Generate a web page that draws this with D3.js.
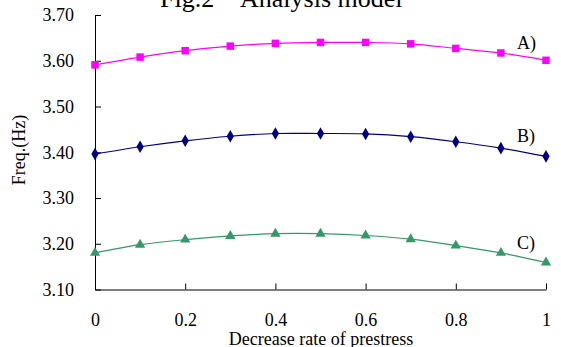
<!DOCTYPE html>
<html>
<head>
<meta charset="utf-8">
<script src="https://cdn.jsdelivr.net/npm/d3@7"></script>
<style>
  body { margin: 0; background: #fff; }
  svg { display: block; }
  text { font-family: "Liberation Serif", "Times New Roman", serif; fill: #000; }
</style>
</head>
<body>
<svg id="chart" width="561" height="347"></svg>
<script>
// decrease rate of prestress
var rates = [0, 0.1, 0.2, 0.3, 0.4, 0.5, 0.6, 0.7, 0.8, 0.9, 1];
// frequencies (Hz) for the three cases
var freqA = [3.591, 3.608, 3.622, 3.632, 3.638, 3.640, 3.640, 3.637, 3.627, 3.617, 3.601];
var freqB = [3.396, 3.412, 3.425, 3.435, 3.441, 3.441, 3.440, 3.434, 3.423, 3.409, 3.391];
var freqC = [3.180, 3.198, 3.209, 3.217, 3.222, 3.222, 3.218, 3.210, 3.196, 3.180, 3.159];
var seriesNames = ["A)", "B)", "C)"];
var yTicks = [3.10, 3.20, 3.30, 3.40, 3.50, 3.60, 3.70];
var xTicks = [0, 0.2, 0.4, 0.6, 0.8, 1];

var svg = d3.select("#chart");

var x = d3.scaleLinear().domain([0, 1]).range([95, 546]);
var y = d3.scaleLinear().domain([3.10, 3.70]).range([289.5, 15]);

var series = [
    {name: seriesNames[0], values: freqA, color: "#ff00ff", symbol: d3.symbolSquare, size: 56, labelAt: 3.6385},
    {name: seriesNames[1], values: freqB, color: "#000080", symbol: d3.symbolDiamond, size: 46, labelAt: 3.4355},
    {name: seriesNames[2], values: freqC, color: "#339966", symbol: d3.symbolTriangle, size: 46, labelAt: 3.2016}
];

// title (clipped at top, as in the figure)
svg.append("text")
    .attr("x", 160)
    .attr("y", 7)
    .style("font-size", "26px")
    .text("Fig.2");
svg.append("text")
    .attr("x", 240)
    .attr("y", 7)
    .style("font-size", "26px")
    .text("Analysis model");

// y axis
var yAxis = d3.axisLeft(y)
    .tickValues(yTicks)
    .tickFormat(d3.format(".2f"))
    .tickSizeInner(-6)
    .tickSizeOuter(0)
    .tickPadding(21);

var gy = svg.append("g")
    .attr("transform", "translate(" + x(0) + ",0)")
    .call(yAxis)
    .attr("font-size", 18)
    .attr("font-family", "Liberation Serif, serif");
gy.select(".domain").attr("stroke", "#000");
gy.selectAll(".tick line").attr("stroke", "#000");

// x axis
var xAxis = d3.axisBottom(x)
    .tickValues(xTicks)
    .tickFormat(function(d) { return d; })
    .tickSizeInner(-6)
    .tickSizeOuter(0)
    .tickPadding(24);

var gx = svg.append("g")
    .attr("transform", "translate(0," + y(3.10) + ")")
    .call(xAxis)
    .attr("font-size", 18)
    .attr("font-family", "Liberation Serif, serif");
gx.select(".domain").attr("stroke", "#000");
gx.selectAll(".tick line").attr("stroke", "#000");

// axis titles
svg.append("text")
    .attr("x", 321)
    .attr("y", 345)
    .attr("text-anchor", "middle")
    .style("font-size", "18px")
    .text("Decrease rate of prestress");

svg.append("text")
    .attr("transform", "translate(25,150) rotate(-90)")
    .attr("text-anchor", "middle")
    .style("font-size", "18px")
    .text("Freq.(Hz)");

var line = d3.line()
    .x(function(d, i) { return x(rates[i]); })
    .y(function(d) { return y(d); })
    .curve(d3.curveCatmullRom);

series.forEach(function(s) {

    svg.append("path")
        .datum(s.values)
        .attr("fill", "none")
        .attr("stroke", s.color)
        .attr("stroke-width", 1.2)
        .attr("d", line);

    svg.append("g")
        .selectAll("path")
        .data(s.values)
        .enter()
        .append("path")
        .attr("transform", function(d, i) { return "translate(" + x(rates[i]) + "," + y(d) + ")"; })
        .attr("d", d3.symbol().type(s.symbol).size(s.size))
        .attr("fill", s.color);

    // series label
    svg.append("text")
        .attr("x", 517)
        .attr("y", y(s.labelAt))
        .attr("dy", "0.35em")
        .style("font-size", "18px")
        .text(s.name);
});
</script>
</body>
</html>
